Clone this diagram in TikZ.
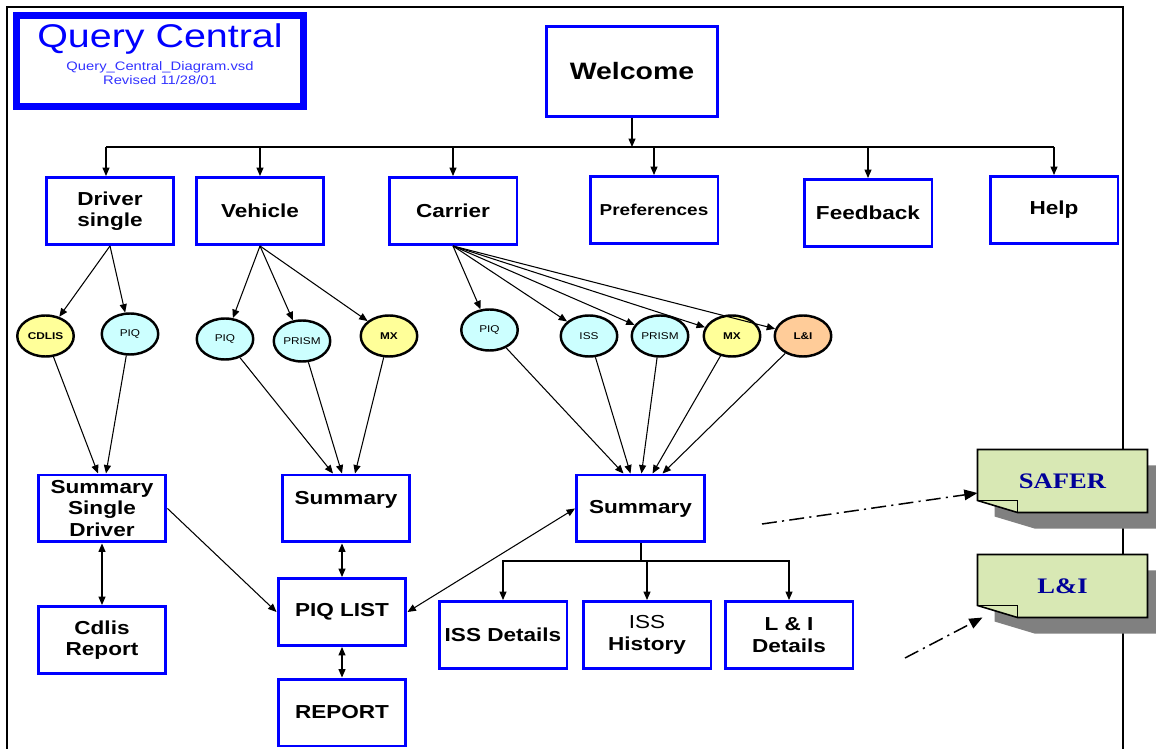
\documentclass[tikz,border=0pt]{standalone}
\usepackage{fontspec}
\setmainfont{Liberation Sans}[FakeStretch=1.2]
\newfontfamily\notefont{Liberation Serif}[FakeStretch=1.2]
\usepackage{tikz}
\usetikzlibrary{shapes.geometric}
\usetikzlibrary{backgrounds}
\usetikzlibrary{arrows.meta}
\definecolor{boxblue}{RGB}{0,0,255}
\definecolor{subblue}{RGB}{51,51,255}
\definecolor{piqcyan}{RGB}{204,255,255}
\definecolor{mxyellow}{RGB}{255,255,153}
\definecolor{lniorange}{RGB}{255,204,153}
\definecolor{notegreen}{RGB}{216,232,180}
\definecolor{notetext}{RGB}{0,0,153}
\definecolor{notegray}{RGB}{128,128,128}
\tikzset{every picture/.style={x=0.02cm,y=-0.02cm,line width=0.6pt,>={Triangle[length=4.8pt,width=4pt]}},
screen/.style={draw=boxblue,line width=1.7pt,minimum width=2.56cm,minimum height=1.34cm,inner sep=1pt,align=center,font=\fontsize{10.7}{12.2}\selectfont\bfseries},
source/.style={draw,ellipse,fill=#1,line width=1.4pt,minimum width=1.13cm,minimum height=0.82cm,inner sep=0pt,font=\fontsize{5.6}{6}\selectfont},
note/.style={minimum width=3.38cm,minimum height=1.24cm,inner sep=0pt,text=notetext,font=\notefont\fontsize{12.6}{14}\selectfont\bfseries},
dashdot/.style={line width=0.85pt,dash pattern=on 8.5pt off 3pt on 1.2pt off 3pt}}
\begin{document}
\begin{tikzpicture}
\useasboundingbox (0,0) rectangle (1156,749);
\node[draw=boxblue,line width=4pt,minimum width=5.74cm,minimum height=1.82cm,text=boxblue,align=center,font=\fontsize{7}{8}\selectfont] (title) at (160,61) {{\fontsize{18.7}{20}\selectfont Query Central}\\[3pt]{\color{subblue}Query\_Central\_Diagram.vsd}\\{\color{subblue}Revised 11/28/01}\\\mbox{}};
\node[screen,minimum width=3.42cm,minimum height=1.8cm,font=\fontsize{13.5}{15}\selectfont\bfseries] (welcome) at (632,71.5) {Welcome};
\node[screen] (driver) at (110,211) {Driver\\single};
\node[screen] (vehicle) at (260,211) {Vehicle};
\node[screen] (carrier) at (453,211) {Carrier};
\node[screen,font=\fontsize{9}{10}\selectfont\bfseries] (pref) at (654,210) {Preferences};
\node[screen] (feedback) at (868,213) {Feedback};
\node[screen] (help) at (1054,210) {Help};
\coordinate (bus) at (628,147);
\coordinate (drivertop) at ([shift={(-4,0)}]driver.north);
\draw[->] (welcome.south) -- (welcome.south |- bus);
\draw (drivertop |- bus) -- (help.north |- bus);
\draw[->] (drivertop |- bus) -- (drivertop);
\foreach \b in {vehicle,carrier,pref,feedback,help}
  \draw[->] (\b.north |- bus) -- (\b.north);
\node[source=mxyellow,font=\fontsize{5.6}{6}\selectfont\bfseries] (cdlis) at (45.5,336) {CDLIS};
\node[source=piqcyan] (dpiq) at (130,334) {PIQ};
\node[source=piqcyan] (vpiq) at (225,339) {PIQ};
\node[source=piqcyan] (vprism) at (302,341) {PRISM};
\node[source=mxyellow,font=\fontsize{5.6}{6}\selectfont\bfseries] (vmx) at (389,336) {MX};
\node[source=piqcyan] (cpiq) at (489.5,330) {PIQ};
\node[source=piqcyan] (ciss) at (589,336) {ISS};
\node[source=piqcyan] (cprism) at (660,336) {PRISM};
\node[source=mxyellow,font=\fontsize{5.6}{6}\selectfont\bfseries] (cmx) at (732,336) {MX};
\node[source=lniorange,font=\fontsize{5.6}{6}\selectfont\bfseries] (clni) at (803,336) {L\&I};
\foreach \c in {cdlis,dpiq} \draw[->] (driver.south) -- (\c);
\foreach \c in {vpiq,vprism,vmx} \draw[->] (vehicle.south) -- (\c);
\foreach \c in {cpiq,ciss,cprism,cmx,clni} \draw[->] (carrier.south) -- (\c);
\node[screen] (ssd) at (102,508.5) {Summary\\Single\\Driver};
\node[screen] (cdlisrep) at (102,640) {Cdlis\\Report};
\node[screen] (vsum) at (346,508.5) {Summary\\\mbox{}};
\node[screen] (piqlist) at (342,612) {PIQ LIST};
\node[screen] (report) at (342,712.5) {REPORT};
\node[screen] (csum) at (640.5,508.5) {Summary};
\node[screen] (issd) at (503,635) {ISS Details};
\node[screen] (isshist) at (647,635) {\textmd{ISS}\\History};
\node[screen] (lnid) at (789,635) {L \& I\\Details};
\foreach \c/\dx in {cdlis/-4,dpiq/4} \draw[->] (\c) -- ([shift={(\dx,0)}]ssd.north);
\foreach \c/\dx in {vpiq/-13,vprism/-4,vmx/9} \draw[->] (\c) -- ([shift={(\dx,0)}]vsum.north);
\foreach \c/\dx in {cpiq/-17,ciss/-10,cprism/1,cmx/12,clni/22} \draw[->] (\c) -- ([shift={(\dx,0)}]csum.north);
\draw[<->] (ssd) -- (cdlisrep);
\draw[<->] (piqlist.north |- vsum.south) -- (piqlist.north);
\draw[<->] (piqlist) -- (report);
\draw[->] (ssd.east) -- (piqlist.west);
\draw[<->] (csum.west) -- (piqlist.east);
\coordinate (cbus) at (641,561);
\draw (csum.south -| cbus) -- (cbus);
\foreach \d in {issd,isshist,lnid} \draw[->] (cbus) -| (\d.north);
\node[note] (safer) at (1062.5,481) {SAFER};
\node[note] (lni) at (1062.5,586) {L\&I};
\begin{scope}[on background layer]
\draw[line width=1.1pt] (7,749) -- (7,7) -- (1123,7) -- (1123,749);
\foreach \n in {safer,lni}{
  \fill[notegray] ([shift={(17,16)}]\n.north west) -- ([shift={(17,16)}]\n.north east) -- ([shift={(17,16)}]\n.south east) -- ([shift={(57,16)}]\n.south west) -- ([shift={(17,4)}]\n.south west) -- cycle;
  \draw[fill=notegreen,line width=0.9pt] (\n.north west) -- (\n.north east) -- (\n.south east) -- ([shift={(40,0)}]\n.south west) -- ([shift={(0,-12)}]\n.south west) -- cycle;
  \draw[line width=0.9pt] ([shift={(0,-12)}]\n.south west) -- ([shift={(40,-12)}]\n.south west) -- ([shift={(40,0)}]\n.south west);
}
\end{scope}
\coordinate (saferfrom) at (762,524);
\coordinate (lnifrom) at (905,658);
\draw[dashdot,-{Triangle[length=7.5pt,width=6pt]}] (saferfrom) -- ([shift={(0,12)}]safer.west);
\draw[dashdot,-{Triangle[length=7.5pt,width=6pt]}] (lnifrom) -- ([shift={(5,0)}]lni.south west);
\end{tikzpicture}
\end{document}
